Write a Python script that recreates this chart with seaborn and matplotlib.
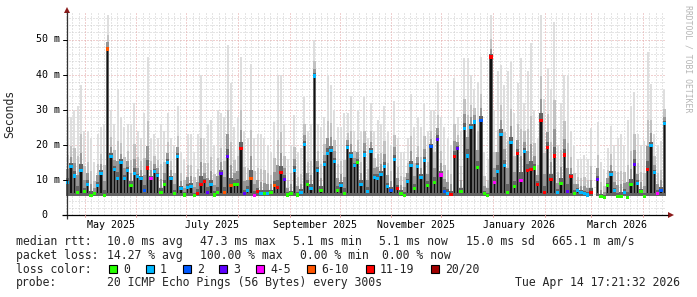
import numpy as np
import pandas as pd
import matplotlib
matplotlib.use("Agg")
import matplotlib.pyplot as plt
import matplotlib.dates as mdates
from matplotlib.patches import Rectangle, Polygon
import seaborn as sns

# ---------------- data ----------------
END = pd.Timestamp("2026-04-14 17:21:32")
SPAN_DAYS = 360
STEP_DAYS = 2
RTT_MIN_MS = 5.3

rtt_median_ms = [
    9.3, 13.8, 11.1, 6.4, 12.8, 6.6, 8.8, 5.6, 6.0, 8.5, 11.9, 5.6, 47.3, 16.6, 13.0,
    10.4, 14.9, 10.4, 12.8, 8.4, 11.9, 10.9, 10.4, 6.9, 13.4, 10.4, 12.5, 11.2, 6.4, 8.8,
    14.9, 10.4, 6.2, 16.6, 7.6, 5.7, 7.9, 8.1, 5.5, 6.1, 8.8, 9.5, 6.5, 8.8, 5.7,
    6.4, 11.7, 6.4, 16.6, 8.5, 8.7, 8.8, 19.0, 6.0, 7.1, 10.4, 5.6, 6.6, 6.0, 6.0,
    6.2, 6.4, 8.5, 7.8, 12.0, 10.2, 5.7, 6.0, 12.8, 5.7, 6.4, 20.2, 8.8, 7.6, 39.6,
    12.6, 7.1, 14.5, 17.4, 18.5, 15.2, 7.1, 8.3, 6.2, 19.3, 16.8, 14.2, 14.9, 8.8, 17.1,
    6.8, 18.0, 10.7, 10.4, 11.6, 13.8, 8.1, 7.1, 15.9, 7.6, 6.2, 5.6, 9.5, 14.0, 7.6,
    13.8, 10.6, 15.5, 8.5, 19.5, 9.3, 21.6, 11.4, 6.6, 6.2, 5.9, 16.6, 19.0, 6.6, 24.7,
    16.8, 24.9, 26.5, 13.6, 27.0, 6.0, 5.6, 45.0, 9.3, 12.3, 23.0, 14.2, 6.5, 20.6, 8.1,
    17.4, 9.8, 18.0, 12.6, 13.0, 13.4, 8.8, 26.9, 6.4, 19.2, 10.0, 16.8, 6.4, 9.0, 17.1,
    6.6, 10.9, 6.2, 7.1, 6.4, 6.2, 5.7, 6.4, np.nan, 10.0, 5.2, 5.0, 8.5, 11.6, 6.9,
    5.2, 5.2, 6.4, 5.0, 8.8, 14.5, 9.0, 6.6, 5.2, 13.0, 19.7, 12.2, 6.2, 7.1, 26.1,
]
rtt_max_ms = [
    28, 28, 30, 31, 37, 24, 24, 22, 15, 23, 25, 26, 57, 30, 26,
    36, 28, 25, 26, 26, 32, 24, 22, 29, 45, 22, 23, 22, 26, 24,
    29, 22, 20, 31, 18, 16, 23, 23, 18, 23, 40, 22, 26, 27, 20,
    30, 29, 28, 48.4, 37.5, 25, 28, 45, 24, 22, 43, 22, 23, 23, 22,
    20, 18, 26.6, 40, 40, 26, 16, 20, 28.5, 18, 19, 33.7, 24, 26, 49.9,
    26, 25, 28, 40, 37, 30, 25, 25, 29, 29, 34, 24, 30, 24, 33.5,
    22, 31.8, 24, 27, 26, 31, 24, 20, 32.6, 22, 18, 18, 22, 34.5, 25,
    28, 25, 32, 24, 30, 30, 38, 28, 25, 22, 20, 39, 28, 24, 44.6,
    44.6, 40, 36, 38, 45, 18, 16, 57, 30, 41, 42.7, 37, 41, 43.7, 29,
    37.5, 44.6, 32, 41, 49, 30, 22, 57, 33, 42, 36, 55, 20, 32, 40,
    40, 24, 20, 16, 16, 17, 16, 24.7, np.nan, 26.6, 15, 13, 19, 25.4, 20,
    22, 23, 20, 27, 31, 35, 23, 20, 21, 46.5, 37.3, 23, 20, 21, 35.6,
]
loss_bucket = [
    1, 1, 1, 0, 1, 0, 1, 0, 0, 1, 1, 0, 5, 1, 1, 1, 1, 1, 1, 0, 1, 1, 1, 2, 6, 4, 1, 1, 0, 0,
    1, 1, 0, 1, 1, 0, 1, 1, 0, 6, 6, 6, 3, 1, 0, 0, 3, 5, 3, 5, 0, 0, 6, 3, 1, 5, 4, 6, 1, 0,
    1, 0, 5, 6, 6, 3, 0, 0, 1, 0, 1, 1, 0, 1, 1, 1, 0, 1, 1, 1, 1, 0, 1, 0, 1, 1, 1, 0, 1, 1,
    1, 1, 1, 1, 1, 1, 1, 2, 1, 6, 0, 0, 1, 1, 0, 1, 1, 1, 0, 2, 0, 3, 4, 2, 1, 6, 6, 3, 0, 1,
    1, 1, 1, 0, 2, 0, 0, 6, 4, 1, 1, 1, 0, 1, 0, 6, 4, 1, 6, 6, 0, 6, 6, 6, 6, 6, 6, 1, 0, 6,
    3, 6, 0, 1, 1, 1, 1, 6, 0, 3, 0, 0, 0, 1, 1, 0, 0, 1, 0, 0, 3, 1, 0, 0, 6, 1, 1, 4, 2, 1,
]

loss_labels = ["0", "1", "2", "3", "4-5", "6-10", "11-19", "20/20"]
loss_colors = ["#26ff00", "#00b8ff", "#0059ff", "#5e00ff", "#ff00ff", "#ff5500", "#ff0000", "#a00000"]

month_labels = ["May 2025", "July 2025", "September 2025", "November 2025", "January 2026", "March 2026"]
month_label_starts = ["2025-05-01", "2025-07-01", "2025-09-01", "2025-11-01", "2026-01-01", "2026-03-01"]
ytick_vals = [0, 10, 20, 30, 40, 50]
ytick_labels = ["0  ", "10 m", "20 m", "30 m", "40 m", "50 m"]

row_rtt = [("median rtt:", 16), ("10.0 ms avg", 107), ("47.3 ms max", 200), ("5.1 ms min", 293),
           ("5.1 ms now", 379), ("15.0 ms sd", 466), ("665.1 m am/s", 552)]
row_loss = [("packet loss:", 16), ("14.27 % avg", 107), ("100.00 % max", 200), ("0.00 % min", 300),
            ("0.00 % now", 382)]
loss_box_x = [109, 146, 183, 219, 256, 307, 366, 431]
probe_text = "20 ICMP Echo Pings (56 Bytes) every 300s"
stamp_text = "Tue Apr 14 17:21:32 2026"

# ---------------- figure ----------------
sns.set_style("white")
plt.rcParams["font.family"] = ["DejaVu Sans Mono", "DejaVu Sans"]

W, H = 697, 297
fig = plt.figure(figsize=(W / 100, H / 100), dpi=100)
fig.patch.set_facecolor("white")

X0, X1, Y0, YT = 66, 666, 215, 12
YMAX = (Y0 - YT) / 3.51
ax = fig.add_axes([X0 / W, (H - Y0) / H, (X1 - X0) / W, (Y0 - YT) / H])
ax.set_facecolor("white")

START = END - pd.Timedelta(days=SPAN_DAYS)
n = len(rtt_median_ms)
med = np.array(rtt_median_ms, dtype=float)
mx = np.array(rtt_max_ms, dtype=float)
centers = START + pd.to_timedelta(np.arange(n) * STEP_DAYS + STEP_DAYS / 2, unit="D")
xc = mdates.date2num(centers)
valid = ~np.isnan(med)

# grid (behind the smoke)
GRID_MINOR, GRID_MAJOR = "#cccccc", "#e3a3a3"
for v in np.arange(2, 57, 2):
    if v % 10:
        ax.axhline(v, color=GRID_MINOR, lw=0.72, ls=(0, (1, 2)), zorder=0.5)
for v in [10, 20, 30, 40, 50]:
    ax.axhline(v, color=GRID_MAJOR, lw=0.72, ls=(0, (1, 2)), zorder=0.6)
months = pd.date_range("2025-04-01", "2026-05-01", freq="MS")
x_lo, x_hi = mdates.date2num(START), mdates.date2num(END)
for m0, m1 in zip(months[:-1], months[1:]):
    a, b = mdates.date2num(m0), mdates.date2num(m1)
    if x_lo < a < x_hi:
        ax.axvline(a, color=GRID_MAJOR, lw=0.72, ls=(0, (1, 2)), zorder=0.6)
    for j in range(1, 8):
        p = a + j * (b - a) / 8
        if x_lo < p < x_hi:
            ax.axvline(p, color=GRID_MINOR, lw=0.72, ls=(0, (1, 2)), zorder=0.5)

# smoke bands (lighter = further from the median)
span = mx - med
bands = [(mx, "#dedede", 0.55), (med + 0.42 * span, "#c2c2c2", 0.7),
         (med + 0.20 * span, "#969696", 0.82), (med + 0.07 * span, "#636363", 0.92)]
for top, col, wf in bands:
    ax.bar(xc[valid], (top - RTT_MIN_MS)[valid], bottom=RTT_MIN_MS, width=STEP_DAYS * wf,
           color=col, linewidth=0, zorder=1)
core = valid & (med > 7)
ax.bar(xc[core], (med - 6.3)[core], bottom=6.3, width=STEP_DAYS * 0.36,
       color="#111111", linewidth=0, zorder=2)

# median markers coloured by loss
df = pd.DataFrame({"time": xc, "median": med,
                   "loss": [loss_labels[b] for b in loss_bucket]}).dropna()
sns.scatterplot(data=df, x="time", y="median", hue="loss",
                palette=dict(zip(loss_labels, loss_colors)), marker="s", s=5,
                linewidth=0, legend=False, ax=ax, zorder=5)

ax.set_xlim(x_lo, x_hi)
ax.set_ylim(0, YMAX)
ax.set_xticks([]); ax.set_yticks([])
ax.set_xlabel(""); ax.set_ylabel("")
for s in ax.spines.values():
    s.set_visible(False)

# ---------------- overlay in pixel coordinates ----------------
ov = fig.add_axes([0, 0, 1, 1], zorder=10)
ov.set_xlim(0, W); ov.set_ylim(H, 0)
ov.axis("off"); ov.patch.set_visible(False)

def px_x(d):
    return X0 + (mdates.date2num(pd.Timestamp(d)) - x_lo) / (x_hi - x_lo) * (X1 - X0)

def px_y(v):
    return Y0 - v * 3.51

arrow_col = "#8b1a1a"
ov.plot([62, 668], [Y0, Y0], color="black", lw=0.9, solid_capstyle="butt")
ov.add_patch(Polygon([[668, Y0 - 3], [674, Y0], [668, Y0 + 3]], closed=True, color=arrow_col, lw=0))
ov.plot([67, 67], [Y0 + 4, 12], color="#333333", lw=0.9, solid_capstyle="butt")
ov.add_patch(Polygon([[64, 13], [67, 7], [70, 13]], closed=True, color=arrow_col, lw=0))
for v in ytick_vals:
    ov.plot([63, 67], [px_y(v), px_y(v)], color="black", lw=0.7)
for m in months:
    px = px_x(m)
    if X0 < px < X1:
        ov.plot([px, px], [Y0, Y0 + 2], color=GRID_MAJOR, lw=0.7)

fs_axis, fs_leg = 7.2, 8.3
for v, lab in zip(ytick_vals, ytick_labels):
    ov.text(60, px_y(v), lab, ha="right", va="center", fontsize=fs_axis, color="black")
for lab, ms in zip(month_labels, month_label_starts):
    m0 = pd.Timestamp(ms)
    m1 = m0 + pd.offsets.MonthBegin(1)
    mid = m0 + (m1 - m0) / 2
    ov.text(px_x(mid), 225, lab, ha="center", va="center", fontsize=fs_axis, color="black")
ov.text(10, 114, "Seconds", rotation=90, ha="center", va="center", fontsize=fs_leg)
ov.text(688, 5, "RRDTOOL / TOBI OETIKER", rotation=270, ha="center", va="top",
        fontsize=5.9, color="#b5b5b5")

ROWS = [241.5, 255.2, 269.2, 282.8]
for t, x in row_rtt:
    ov.text(x, ROWS[0], t, ha="left", va="center", fontsize=fs_leg)
for t, x in row_loss:
    ov.text(x, ROWS[1], t, ha="left", va="center", fontsize=fs_leg)
ov.text(16, ROWS[2], "loss color:", ha="left", va="center", fontsize=fs_leg)
for bx, lab, col in zip(loss_box_x, loss_labels, loss_colors):
    ov.add_patch(Rectangle((bx, ROWS[2] - 4.5), 8, 8, facecolor=col, edgecolor="black", lw=0.8))
    ov.text(bx + 14, ROWS[2], lab, ha="left", va="center", fontsize=fs_leg)
ov.text(16, ROWS[3], "probe:", ha="left", va="center", fontsize=fs_leg)
ov.text(107, ROWS[3], probe_text, ha="left", va="center", fontsize=fs_leg)
ov.text(680, ROWS[3], stamp_text, ha="right", va="center", fontsize=fs_leg)

fig.savefig("out.png", dpi=100, facecolor="white")
